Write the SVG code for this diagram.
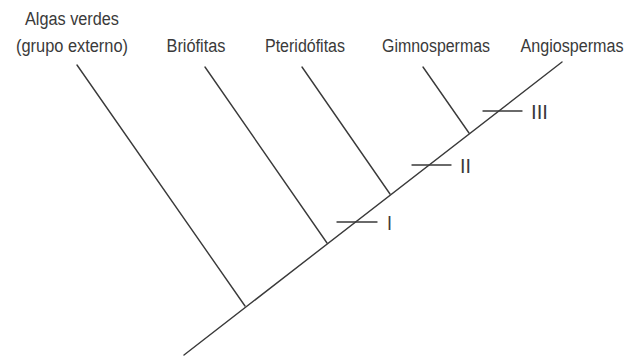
<svg xmlns="http://www.w3.org/2000/svg" width="641" height="358" viewBox="0 0 641 358">
<style>
.ln{stroke:#3a3a3a;stroke-width:1.4;fill:none;stroke-linecap:round}
.lb{font-family:"Liberation Sans",Arial,sans-serif;font-size:18px;fill:#3a3a3a}
.rn{font-family:"Liberation Sans",Arial,sans-serif;font-size:21px;fill:#3a3a3a}
</style>
<rect width="641" height="358" fill="#fff"/>
<g id="connectors">
<line class="ln" x1="184" y1="355" x2="562" y2="62"/>
<line class="ln" x1="77" y1="65" x2="245" y2="306"/>
<line class="ln" x1="205" y1="67" x2="327" y2="243"/>
<line class="ln" x1="302" y1="67" x2="390" y2="194"/>
<line class="ln" x1="423" y1="67" x2="469" y2="133"/>
</g>
<g id="algas"><text class="lb" x="72" y="25" text-anchor="middle" textLength="94" lengthAdjust="spacingAndGlyphs">Algas verdes</text><text class="lb" x="72" y="52" text-anchor="middle" textLength="112" lengthAdjust="spacingAndGlyphs">(grupo externo)</text></g>
<g id="briofitas"><text class="lb" x="196" y="52" text-anchor="middle" textLength="59" lengthAdjust="spacingAndGlyphs">Briófitas</text></g>
<g id="pteridofitas"><text class="lb" x="305" y="52" text-anchor="middle" textLength="80" lengthAdjust="spacingAndGlyphs">Pteridófitas</text></g>
<g id="gimnospermas"><text class="lb" x="436" y="52" text-anchor="middle" textLength="108" lengthAdjust="spacingAndGlyphs">Gimnospermas</text></g>
<g id="angiospermas"><text class="lb" x="572" y="52" text-anchor="middle" textLength="103" lengthAdjust="spacingAndGlyphs">Angiospermas</text></g>
<g id="mark-I"><line class="ln" x1="337" y1="222" x2="377" y2="222"/><text class="rn" x="387" y="230" textLength="5" lengthAdjust="spacingAndGlyphs">I</text></g>
<g id="mark-II"><line class="ln" x1="412" y1="165" x2="451" y2="165"/><text class="rn" x="460" y="173" textLength="11" lengthAdjust="spacingAndGlyphs">II</text></g>
<g id="mark-III"><line class="ln" x1="483" y1="111" x2="522" y2="111"/><text class="rn" x="531" y="119" textLength="17" lengthAdjust="spacingAndGlyphs">III</text></g>
</svg>
